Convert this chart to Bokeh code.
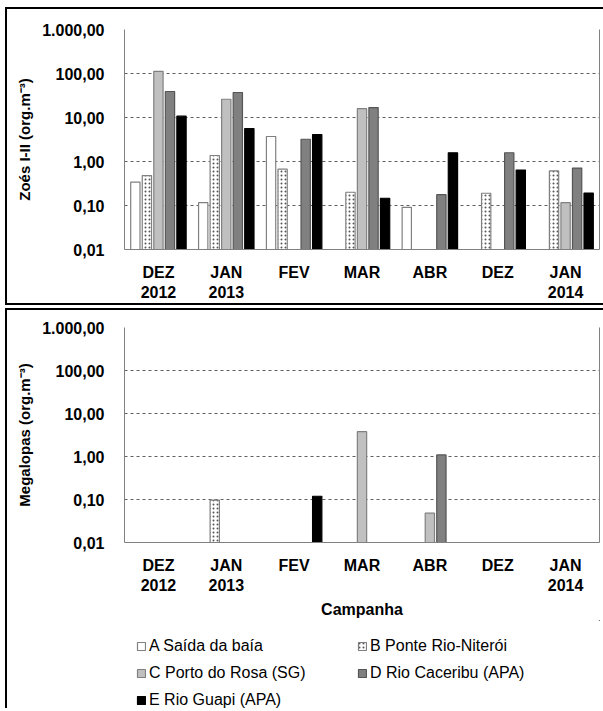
from bokeh.plotting import figure
from bokeh.models import (ColumnDataSource, FixedTicker, LogAxis, Legend, LegendItem)
from bokeh.layouts import column
from bokeh.transform import dodge
from bokeh.embed import file_html
from bokeh.resources import INLINE

categories = ["DEZ\n2012", "JAN\n2013", "FEV", "MAR", "ABR", "DEZ", "JAN\n2014"]
series_names = ["A Saída da baía", "B Ponte Rio-Niterói", "C Porto do Rosa (SG)",
                "D Rio Caceribu (APA)", "E Rio Guapi (APA)"]

# Zoés I-II (org.m-3)
zoe_A = [0.34, 0.116, 3.7, None, 0.091, None, None]
zoe_B = [0.48, 1.37, 0.67, 0.20, None, 0.19, 0.61]
zoe_C = [112.0, 26.0, None, 15.9, None, None, 0.116]
zoe_D = [39.0, 37.0, 3.2, 16.8, 0.176, 1.58, 0.71]
zoe_E = [10.7, 5.6, 4.1, 0.146, 1.58, 0.64, 0.192]

# Megalopas (org.m-3)
meg_A = [None, None, None, None, None, None, None]
meg_B = [None, 0.097, None, None, None, None, None]
meg_C = [None, None, None, 3.77, 0.048, None, None]
meg_D = [None, None, None, None, 1.09, None, None]
meg_E = [None, None, 0.119, None, None, None, None]

y_ticks = [0.01, 0.1, 1, 10, 100, 1000]
y_tick_labels = ["0,01", "0,10", "1,00", "10,00", "100,00", "1.000,00"]

FONT = "Liberation Sans"
offsets = [-0.34, -0.17, 0.0, 0.17, 0.34]
fills = ["white", "white", "#c0c0c0", "#808080", "black"]
lines = ["#808080", "#808080", "#808080", "#555555", "black"]
hatches = [None, "dot", None, None, None]
W = 598
BORDER = {"border": "2px solid black", "border-right": "none"}


def bar_style(i):
    kw = dict(fill_color=fills[i], line_color=lines[i], line_width=1.2)
    if hatches[i]:
        kw.update(hatch_pattern=hatches[i], hatch_color="#555555", hatch_scale=4,
                  hatch_weight=0.8)
    return kw


def make_fig(series, ylabel, height, mbt, mbb, show_xlabel, margin, border):
    p = figure(width=W, height=height, x_range=(-0.5, 6.5), y_range=(0.01, 1000),
               y_axis_type="log", output_backend="svg", toolbar_location=None,
               min_border_left=117, min_border_right=6, min_border_top=mbt,
               min_border_bottom=mbb, margin=margin)
    p.outline_line_color = None
    p.background_fill_color = "white"
    p.border_fill_color = "white"
    if border:
        p.styles = dict(BORDER)
    rends = []
    for i, vals in enumerate(series):
        xs = [j for j, v in enumerate(vals) if v is not None]
        tops = [v for v in vals if v is not None]
        src = ColumnDataSource(dict(x=xs, top=tops))
        r = p.vbar(x=dodge("x", offsets[i]), top="top", bottom=0.01, width=0.137,
                   source=src, **bar_style(i))
        rends.append(r)
    # grid
    p.xgrid.grid_line_color = None
    p.ygrid.ticker = FixedTicker(ticks=y_ticks)
    p.ygrid.grid_line_color = "#606060"
    p.ygrid.grid_line_dash = "3 3"
    p.ygrid.grid_line_width = 1
    # y axis
    ya = p.yaxis[0]
    ya.ticker = FixedTicker(ticks=y_ticks)
    ya.major_label_overrides = {t: l for t, l in zip(y_ticks, y_tick_labels)}
    ya.minor_tick_line_color = None
    ya.major_tick_line_color = None
    ya.axis_line_color = "#808080"
    ya.major_label_standoff = 14
    ya.major_label_text_font = FONT
    ya.major_label_text_font_style = "bold"
    ya.major_label_text_font_size = "16px"
    ya.major_label_text_color = "black"
    ya.axis_label = ylabel
    ya.axis_label_text_font = FONT
    ya.axis_label_text_font_style = "bold"
    ya.axis_label_text_font_size = "15px"
    ya.axis_label_text_color = "black"
    ya.axis_label_standoff = 6
    # x axis
    xa = p.xaxis[0]
    xa.ticker = FixedTicker(ticks=list(range(len(categories))))
    xa.major_label_overrides = {i: c for i, c in enumerate(categories)}
    xa.major_tick_line_color = None
    xa.minor_tick_line_color = None
    xa.axis_line_color = "#808080"
    xa.major_label_standoff = 8
    xa.major_label_text_font = FONT
    xa.major_label_text_font_style = "bold"
    xa.major_label_text_font_size = "16px"
    xa.major_label_text_color = "black"
    if show_xlabel:
        xa.axis_label = "Campanha"
        xa.axis_label_text_font = FONT
        xa.axis_label_text_font_style = "bold"
        xa.axis_label_text_font_size = "16px"
        xa.axis_label_text_color = "black"
        xa.axis_label_standoff = 4
    # right frame line
    ra = LogAxis(ticker=FixedTicker(ticks=[]), major_label_text_font_size="0px",
                 major_tick_line_color=None, minor_tick_line_color=None,
                 axis_line_color="#808080")
    p.add_layout(ra, "right")
    return p, rends


p1, _ = make_fig([zoe_A, zoe_B, zoe_C, zoe_D, zoe_E], "Zoés I-II (org.m⁻³)",
                 298, 20, 58, False, (7, 0, 0, 5), True)
p2, _ = make_fig([meg_A, meg_B, meg_C, meg_D, meg_E], "Megalopas (org.m⁻³)",
                 310, 17, 75, True, 0, False)

# legend panel
pl = figure(width=W, height=88, x_range=(0, 1), y_range=(0, 1), output_backend="svg",
            toolbar_location=None, min_border=0, margin=0,
            x_axis_location=None, y_axis_location=None)
pl.grid.grid_line_color = None
pl.outline_line_color = None
leg_rends = []
for i in range(len(series_names)):
    src = ColumnDataSource(dict(x=[5.0], top=[5.0]))
    leg_rends.append(pl.vbar(x="x", top="top", bottom=4.0, width=0.1, source=src,
                             **bar_style(i)))
order = [0, 2, 4, 1, 3]
legend = Legend(items=[LegendItem(label=series_names[k], renderers=[leg_rends[k]]) for k in order],
                ncols=2, location=(12, -2), label_text_font=FONT,
                label_text_font_size="16px", label_text_color="black",
                glyph_width=10, glyph_height=10,
                label_standoff=3, label_width=201, label_height=20, spacing=7,
                border_line_color=None, background_fill_alpha=0, padding=0,
                margin=0)
pl.add_layout(legend)

bottom = column(p2, pl, spacing=0, margin=(3, 0, 0, 5))
bottom.styles = {"border": "2px solid black", "border-right": "none",
                 "border-bottom": "none"}

layout = column(p1, bottom, spacing=0)
open("out.html", "w").write(file_html(layout, INLINE))
